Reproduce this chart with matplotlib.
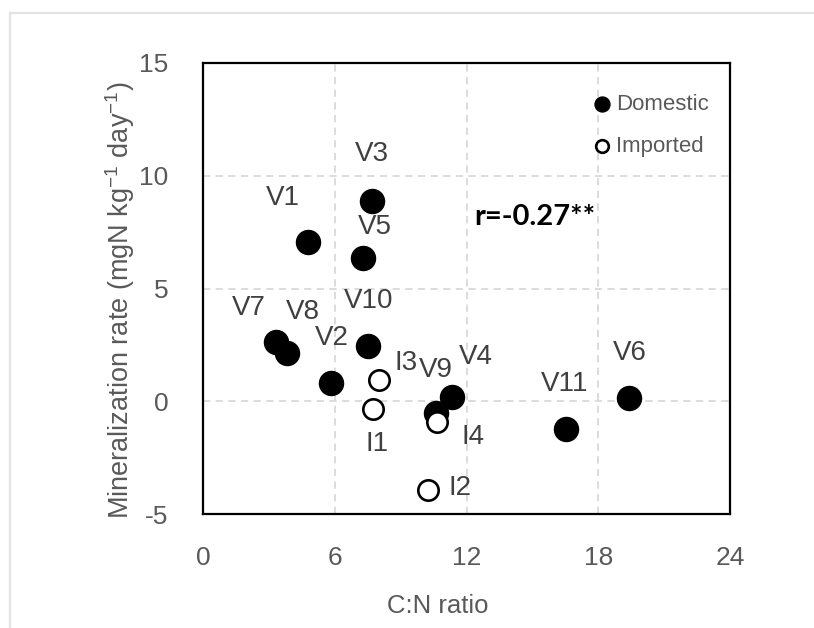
import matplotlib
matplotlib.use('agg')
import matplotlib.pyplot as plt
from matplotlib.lines import Line2D

plt.rcParams['font.family'] = ['Liberation Sans', 'DejaVu Sans']
plt.rcParams['mathtext.fontset'] = 'custom'
plt.rcParams['mathtext.rm'] = 'Liberation Sans'
plt.rcParams['axes.unicode_minus'] = False

# domestic varieties
dom_names = ['V1', 'V2', 'V3', 'V4', 'V5', 'V6', 'V7', 'V8', 'V9', 'V10', 'V11']
dom_cn = [4.78, 5.81, 7.70, 11.32, 7.29, 19.41, 3.31, 3.81, 10.61, 7.53, 16.53]
dom_min = [7.06, 0.80, 8.88, 0.20, 6.35, 0.13, 2.63, 2.15, -0.53, 2.45, -1.23]

# imported varieties
imp_names = ['I1', 'I2', 'I3', 'I4']
imp_cn = [7.73, 10.26, 8.03, 10.64]
imp_min = [-0.36, -3.94, 0.94, -0.90]

x_ticks = [0, 6, 12, 18, 24]
y_ticks = [-5, 0, 5, 10, 15]
r_text = 'r=-0.27**'

# label offsets (pixels) from each point
label_off = {
    'V1': (-25, 44), 'V2': (1, 45), 'V3': (0, 47), 'V4': (24, 40),
    'V5': (12, 31), 'V6': (1, 45), 'V7': (-27, 34), 'V8': (16, 41),
    'V9': (0, 43), 'V10': (0, 45), 'V11': (-1, 45),
    'I1': (4, -35), 'I2': (32, 2), 'I3': (27, 17), 'I4': (36, -15),
}

fig = plt.figure(figsize=(8.14, 6.28), dpi=100)
ax = fig.add_axes([0.2494, 0.1815, 0.6474, 0.7182])

# light frame around the picture
fig.add_artist(Line2D([10 / 814, 10 / 814], [0, 1 - 13 / 628], color='#e3e3e3', lw=1.6))
fig.add_artist(Line2D([10 / 814, 1], [1 - 13 / 628, 1 - 13 / 628], color='#e3e3e3', lw=1.6))

ax.scatter(dom_cn, dom_min, s=300, c='black', label='Domestic', zorder=3)
ax.scatter(imp_cn, imp_min, s=215, facecolors='white', edgecolors='black',
           linewidths=1.9, label='Imported', zorder=4)

for names, xs, ys in [(dom_names, dom_cn, dom_min), (imp_names, imp_cn, imp_min)]:
    for n, x, y in zip(names, xs, ys):
        ax.annotate(n, (x, y), xytext=label_off[n], textcoords='offset pixels',
                    ha='center', va='center', fontsize=20, color='#404040', zorder=5)

ax.text(15.12, 8.18, r_text, ha='center', va='center', fontsize=21,
        fontweight='bold', family=['Lato', 'DejaVu Sans'], color='black')

ax.set_xlim(0, 24)
ax.set_ylim(-5, 15)
ax.set_xticks(x_ticks)
ax.set_yticks(y_ticks)
ax.tick_params(length=0, labelsize=19, labelcolor='#595959')
ax.tick_params(axis='x', pad=23)
ax.tick_params(axis='y', pad=25)
ax.grid(True, color='#d9d9d9', linestyle=(0, (4, 3)), linewidth=1.3)
ax.set_axisbelow(True)
for s in ax.spines.values():
    s.set_linewidth(1.6)
    s.set_color('black')

ax.set_xlabel('C:N ratio', fontsize=18.5, color='#595959')
ax.xaxis.label.set_va('center')
ax.xaxis.set_label_coords(0.446, -0.204)
ax.set_ylabel('Mineralization rate (mgN kg$^{-1}$ day$^{-1}$)', fontsize=19.5, color='#595959')
ax.yaxis.label.set_va('center')
ax.yaxis.set_label_coords(-0.1575, 0.475)

leg = ax.legend(loc='upper left', bbox_to_anchor=(0.7355, 0.932), frameon=False,
                fontsize=16, markerscale=0.62, handlelength=1.0, handletextpad=0.15,
                borderpad=0, borderaxespad=0, labelspacing=0.95)
for t in leg.get_texts():
    t.set_color('#595959')

fig.savefig('out.png', dpi=100)
